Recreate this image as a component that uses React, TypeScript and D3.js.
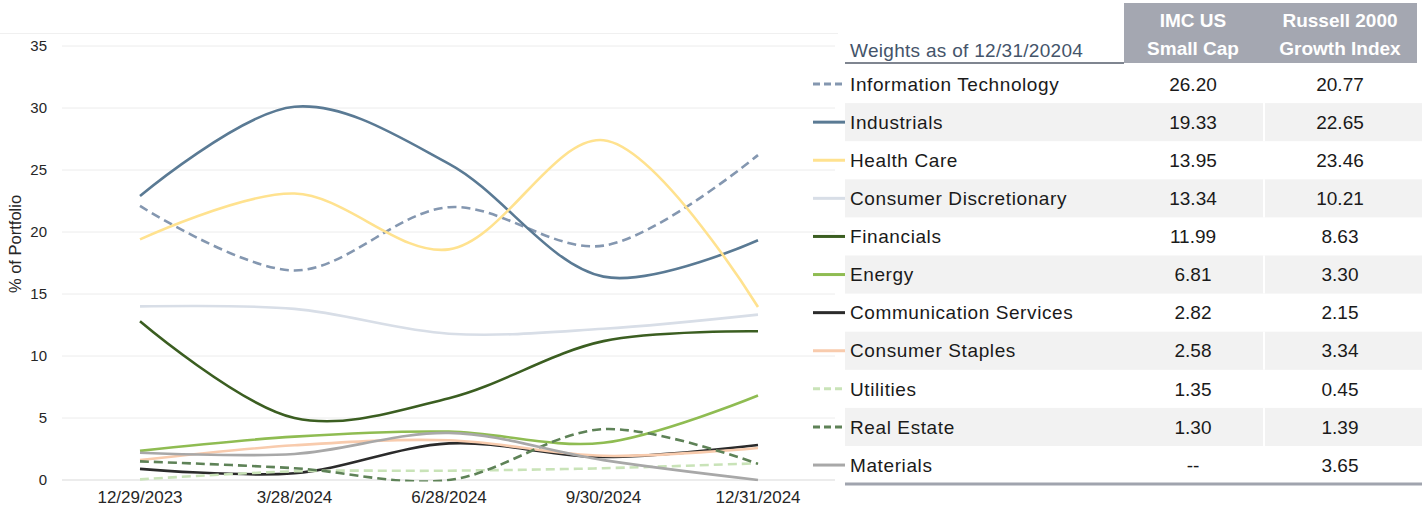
import React from "react";
import * as d3 from "d3";

// quarter-end dates on the x axis
const dates = ["12/29/2023", "3/28/2024", "6/28/2024", "9/30/2024", "12/31/2024"];
const yTicks = [0, 5, 10, 15, 20, 25, 30, 35];

const sectors = [
  "Information Technology",
  "Industrials",
  "Health Care",
  "Consumer Discretionary",
  "Financials",
  "Energy",
  "Communication Services",
  "Consumer Staples",
  "Utilities",
  "Real Estate",
  "Materials",
];

// % of portfolio by quarter
const infoTech = [22.1, 16.9, 22.0, 18.9, 26.2];
const industrials = [22.9, 30.1, 25.5, 16.4, 19.33];
const healthCare = [19.4, 23.1, 18.6, 27.4, 13.95];
const consDisc = [14.0, 13.8, 11.8, 12.2, 13.34];
const financials = [12.8, 5.0, 6.6, 11.2, 11.99];
const energy = [2.35, 3.5, 3.9, 3.0, 6.81];
const commServices = [0.9, 0.55, 2.95, 1.85, 2.82];
const consStaples = [1.6, 2.8, 3.2, 1.95, 2.58];
const utilities = [0.05, 0.7, 0.75, 0.95, 1.35];
const realEstate = [1.5, 0.95, 0.0, 4.1, 1.3];
const materials = [2.2, 2.1, 3.8, 1.6, 0.0];

// weights table
const imcWeights = ["26.20", "19.33", "13.95", "13.34", "11.99", "6.81", "2.82", "2.58", "1.35", "1.30", "--"];
const russellWeights = ["20.77", "22.65", "23.46", "10.21", "8.63", "3.30", "2.15", "3.34", "0.45", "1.39", "3.65"];

const seriesValues = [
  infoTech, industrials, healthCare, consDisc, financials, energy,
  commServices, consStaples, utilities, realEstate, materials,
];
const colors = [
  "#8497b0", "#5a7a94", "#ffe28f", "#d8dee7", "#3b5e21", "#8fbc52",
  "#2b2b2b", "#f8cbad", "#c9e3b8", "#5e8257", "#a8a8a8",
];
const dashed = [true, false, false, false, false, false, false, false, true, true, false];

const W = 1422;
const H = 514;
const FONT = "'Liberation Sans', Arial, sans-serif";

export default function App() {
  const x = d3.scalePoint<string>().domain(dates).range([140, 758]);
  const y = d3.scaleLinear().domain([0, 35]).range([480, 46]);

  const line = d3
    .line<number>()
    .x((_, i) => x(dates[i]) as number)
    .y((d) => y(d))
    .curve(d3.curveCatmullRom.alpha(0.5));

  const rowTop = 65;
  const rowH = 38.1;
  const col1 = 1193;
  const col2 = 1340;

  return (
    <svg
      width={W}
      height={H}
      style={{ position: "absolute", left: 0, top: 0, background: "#fff" }}
      fontFamily={FONT}
    >
      <defs>
        <clipPath id="plot">
          <rect x={60} y={30} width={780} height={y(0) - 30 + 1.5} />
        </clipPath>
      </defs>

      {/* faint chart frame */}
      <line x1={0} x2={838} y1={33.5} y2={33.5} stroke="#f0f0f0" />

      {/* gridlines */}
      {yTicks.map((t) => (
        <line key={t} x1={62} x2={835} y1={y(t)} y2={y(t)} stroke={t === 0 ? "#d9d9d9" : "#ececec"} strokeWidth={1} />
      ))}

      {/* y tick labels */}
      {yTicks.map((t) => (
        <text key={t} x={47} y={y(t)} dy="0.35em" textAnchor="end" fontSize={15} fill="#262626">
          {t}
        </text>
      ))}

      <text
        transform={`translate(21,244) rotate(-90)`}
        textAnchor="middle"
        fontSize={16.5}
        fill="#262626"
      >
        % of Portfolio
      </text>

      {/* x labels */}
      {dates.map((d) => (
        <text key={d} x={x(d)} y={503} textAnchor="middle" fontSize={17} fill="#262626">
          {d}
        </text>
      ))}

      {/* series lines */}
      <g clipPath="url(#plot)">
        {seriesValues.map((vals, i) => (
          <path
            key={sectors[i]}
            d={line(vals) || ""}
            fill="none"
            stroke={colors[i]}
            strokeWidth={2.6}
            strokeDasharray={dashed[i] ? "9,5" : undefined}
            strokeLinecap="butt"
          />
        ))}
      </g>

      {/* table header */}
      <rect x={1124} y={3} width={293} height={60} fill="#a4a7b1" />
      {[
        ["IMC US", "Small Cap", col1],
        ["Russell 2000", "Growth Index", col2],
      ].map(([a, b, cx]) => (
        <g key={a as string}>
          <text x={cx as number} y={27} textAnchor="middle" fontSize={19} fontWeight="bold" fill="#fff">
            {a}
          </text>
          <text x={cx as number} y={55} textAnchor="middle" fontSize={19} fontWeight="bold" fill="#fff">
            {b}
          </text>
        </g>
      ))}
      <text x={850} y={57} fontSize={19} letterSpacing={0.3} fill="#44546a">
        Weights as of 12/31/20204
      </text>
      <line x1={845} x2={1124} y1={63} y2={63} stroke="#7f8590" strokeWidth={2} />

      {/* table rows */}
      {sectors.map((s, i) => {
        const top = rowTop + i * rowH;
        const cy = top + rowH / 2;
        return (
          <g key={s}>
            {i % 2 === 1 && (
              <>
                <rect x={845} y={top} width={W - 845} height={rowH} fill="#f2f2f2" />
                <line x1={1264} x2={1264} y1={top} y2={top + rowH} stroke="#fff" strokeWidth={2} />
              </>
            )}
            <line
              x1={813}
              x2={845}
              y1={cy}
              y2={cy}
              stroke={colors[i]}
              strokeWidth={3}
              strokeDasharray={dashed[i] ? "7,4" : undefined}
            />
            <text x={850} y={cy} dy="0.35em" fontSize={19} letterSpacing={0.6} fill="#1a1a1a">
              {s}
            </text>
            <text x={col1} y={cy} dy="0.35em" textAnchor="middle" fontSize={19} fill="#1a1a1a">
              {imcWeights[i]}
            </text>
            <text x={col2} y={cy} dy="0.35em" textAnchor="middle" fontSize={19} fill="#1a1a1a">
              {russellWeights[i]}
            </text>
          </g>
        );
      })}
      <line x1={845} x2={W} y1={484} y2={484} stroke="#a0a4ae" strokeWidth={3} />
    </svg>
  );
}
